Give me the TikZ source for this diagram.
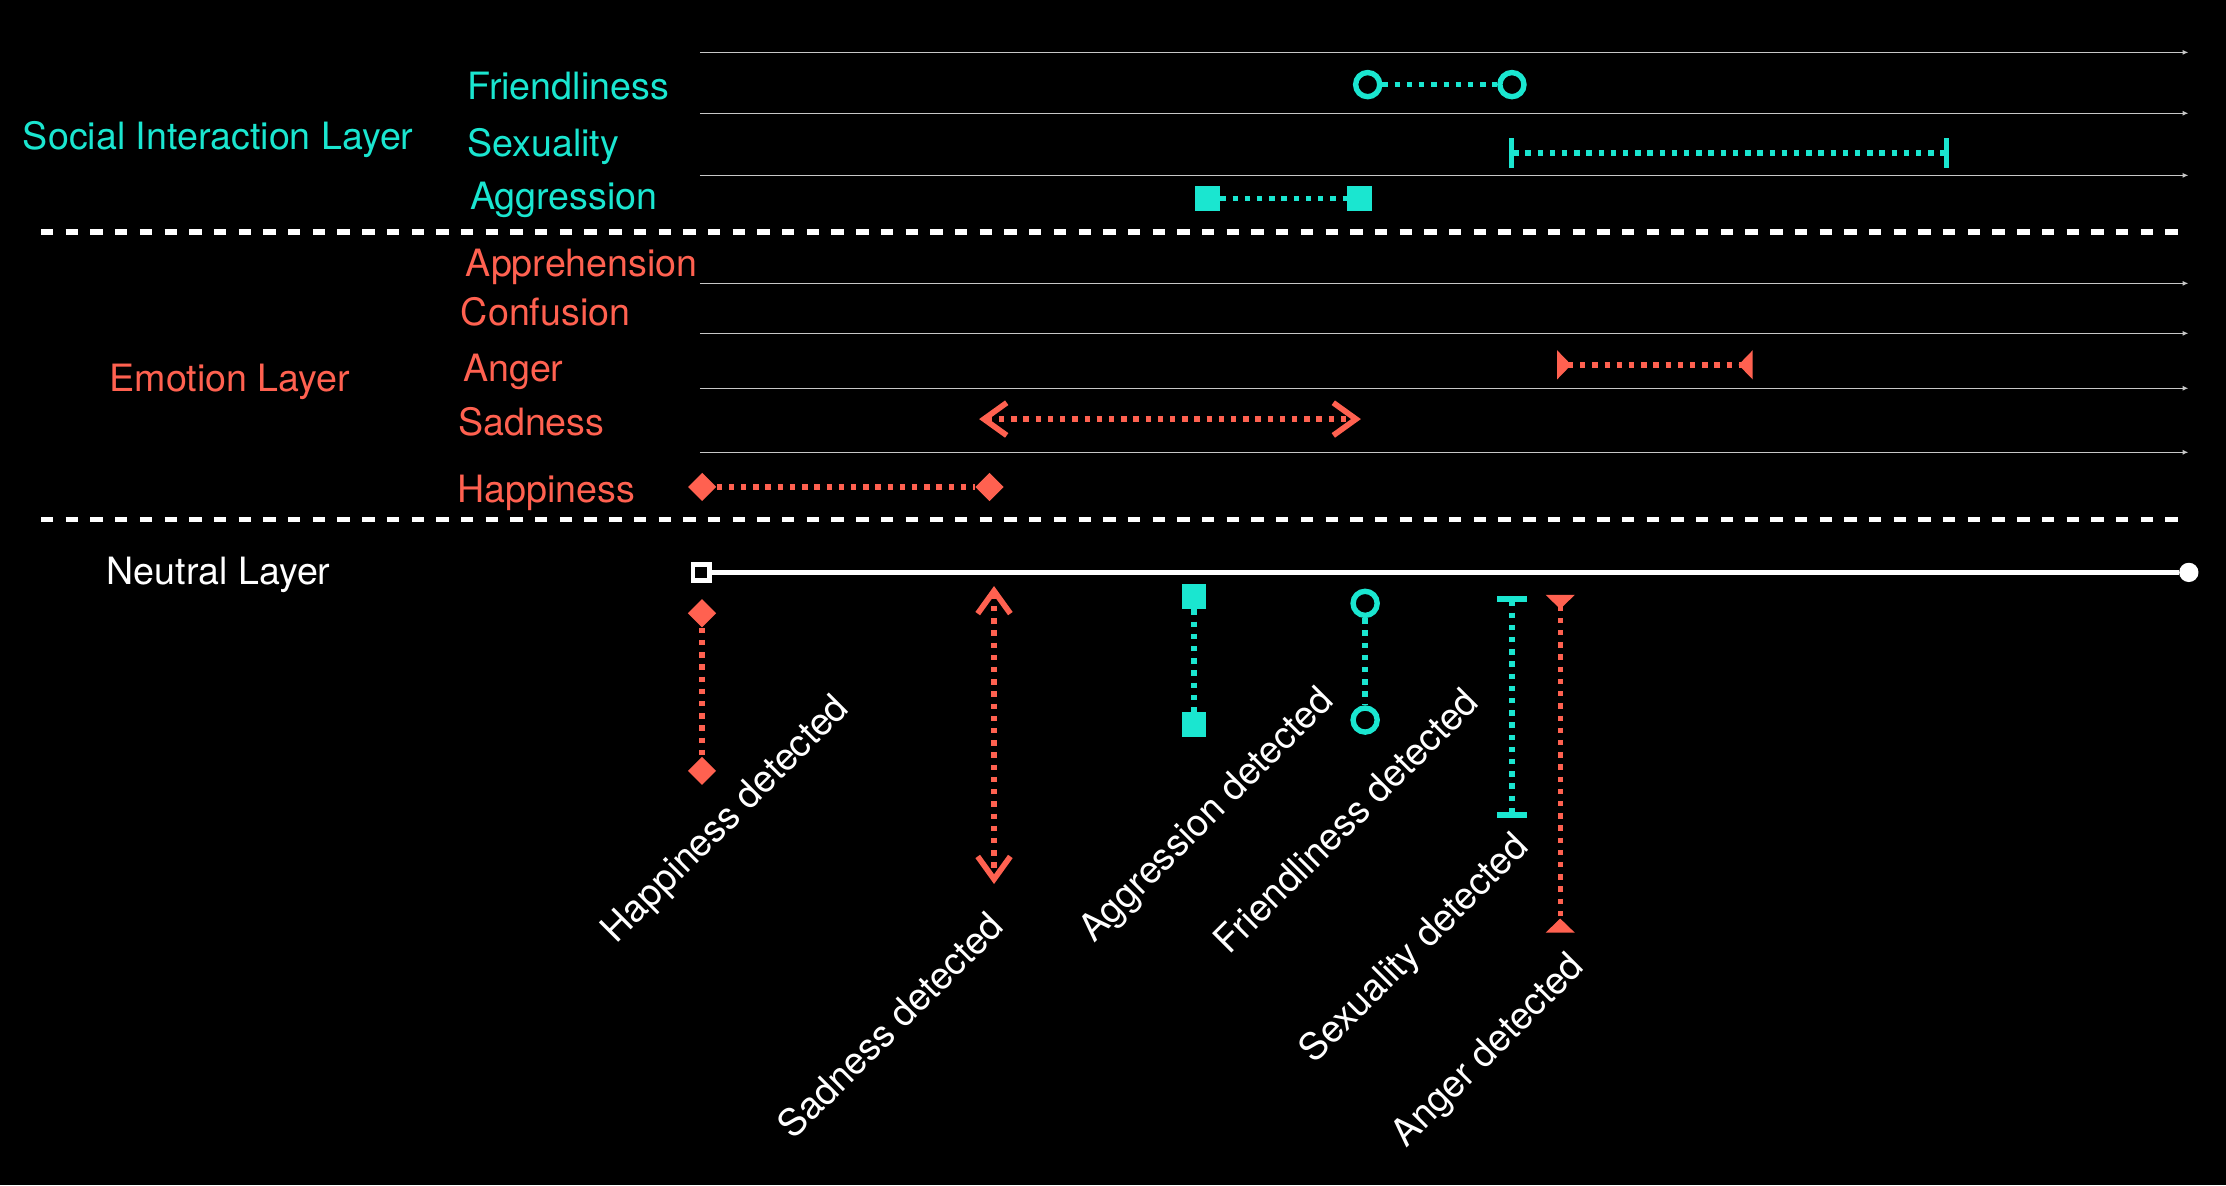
\documentclass[tikz,border=0pt]{standalone}
\usepackage{fontspec}
\setmainfont{TeX Gyre Heros}
\usetikzlibrary{arrows.meta,shapes.geometric}
\definecolor{teal1}{RGB}{26,230,208}
\definecolor{coral1}{RGB}{255,97,80}
\tikzstyle{lbl} = [anchor=base west, inner sep=0pt, font=\fontsize{26.5}{30}\selectfont]
\tikzstyle{tilted} = [rotate=45, inner sep=0pt, text=white, font=\fontsize{26.5}{30}\selectfont]
\tikzstyle{axisline} = [draw=black!22, line width=0.8pt, -{Latex[length=4pt,width=3.5pt]}]
\tikzstyle{divider} = [draw=white, line width=3.8pt, dash pattern=on 8.7pt off 8.7pt]
\tikzstyle{dotline} = [line width=3.8pt, dash pattern=on 3.8pt off 4.8pt]
\tikzstyle{hollow} = [draw=teal1, circle, line width=3.8pt, fill=black, minimum size=17pt, inner sep=0pt]
\tikzstyle{block} = [fill=teal1, rectangle, minimum size=17.5pt, inner sep=0pt]
\tikzstyle{gem} = [fill=coral1, diamond, minimum width=20pt, minimum height=20pt, inner sep=0pt]
\tikzset{
  barbs/.style={{Straight Barb[length=16pt,width=23pt,line width=4pt]}-{Straight Barb[length=16pt,width=23pt,line width=4pt]}},
  tris/.style={{Triangle[reversed,length=10pt,width=20pt]}-{Triangle[reversed,length=10pt,width=20pt]}},
  bars/.style={{Bar[width=20.7pt]}-{Bar[width=20.7pt]}}
}

\begin{document}
\begin{tikzpicture}[x=1pt,y=-1pt]

\fill[black] (0,0) rectangle (1568,835);
\useasboundingbox (0,0) rectangle (1568,835);

\node[lbl, text=teal1] (social) at (16,105.2) {Social Interaction Layer};
\node[lbl, text=coral1] (emotion) at (77,276) {Emotion Layer};
\node[lbl, text=white] (neutral) at (75,412) {Neutral Layer};

\node[lbl, text=teal1] (friend) at (329,70) {Friendliness};
\node[lbl, text=teal1] (sexual) at (329,110.4) {Sexuality};
\node[lbl, text=teal1] (aggr) at (331,147.5) {Aggression};
\node[lbl, text=coral1] (appr) at (328,195) {Apprehension};
\node[lbl, text=coral1] (conf) at (324.5,229) {Confusion};
\node[lbl, text=coral1] (anger) at (326,269) {Anger};
\node[lbl, text=coral1] (sad) at (322.5,307) {Sadness};
\node[lbl, text=coral1] (happy) at (322,354) {Happiness};

\foreach \yy [count=\i] in {36.9,79.8,123.5,199.6,234.8,273.5,318.6} {
  \coordinate (ax\i) at (493,\yy);
  \coordinate (axe\i) at (1541.5,\yy);
  \draw[axisline] (ax\i) -- (axe\i);
}

\coordinate (div1) at (28.9,163.4);
\coordinate (dive1) at (1542.5,163.4);
\coordinate (div2) at (28.9,366.1);
\coordinate (dive2) at (1542.5,366.1);
\draw[divider] (div1) -- (dive1);
\draw[divider] (div2) -- (dive2);

% social layer
\node[hollow] (fr1) at (963.4,59.6) {};
\node[hollow] (fr2) at (1065,59.6) {};
\draw[dotline, teal1] (fr1) -- (fr2);
\coordinate (sx1) at (1063,107.8);
\coordinate (sx2) at (1373,107.8);
\draw[dotline, teal1, bars] (sx1) -- (sx2);
\node[block] (ag1) at (850.7,139.9) {};
\node[block] (ag2) at (957.6,139.9) {};
\draw[dotline, teal1] (ag1) -- (ag2);

% emotion layer
\coordinate (an1) at (1096.8,257);
\coordinate (an2) at (1234.6,257);
\draw[dotline, coral1, tris] (an1) -- (an2);
\coordinate (sa1) at (689.7,295.2);
\coordinate (sa2) at (958.6,295.2);
\draw[dotline, coral1, barbs] (sa1) -- (sa2);
\node[gem] (ha1) at (494.6,343) {};
\node[gem] (ha2) at (697,343) {};
\draw[dotline, coral1] (ha1) -- (ha2);

% neutral layer
\node[draw=white, fill=black, line width=3.3pt, minimum size=11.5pt, inner sep=0pt] (n0) at (494,403.2) {};
\node[circle, fill=white, minimum size=13.6pt, inner sep=0pt] (n1) at (1541.8,403.2) {};
\draw[white, line width=3.3pt] (n0) -- (n1);

% detections
\node[gem] (hd1) at (494.5,432) {};
\node[gem] (hd2) at (494.5,543) {};
\draw[dotline, coral1] (hd1) -- (hd2);
\coordinate (sd1) at (700.2,412.8);
\coordinate (sd2) at (700.2,622.7);
\draw[dotline, coral1, barbs] (sd1) -- (sd2);
\node[block] (ad1) at (841,420.3) {};
\node[block] (ad2) at (841,510.2) {};
\draw[dotline, teal1] (ad1) -- (ad2);
\node[hollow] (fd1) at (961.6,425) {};
\node[hollow] (fd2) at (961.6,507.2) {};
\draw[dotline, teal1] (fd1) -- (fd2);
\coordinate (xd1) at (1065,420);
\coordinate (xd2) at (1065,576);
\draw[dotline, teal1, bars] (xd1) -- (xd2);
\coordinate (nd1) at (1099,419);
\coordinate (nd2) at (1099,657);
\draw[dotline, coral1, tris] (nd1) -- (nd2);

\node[tilted] (hdet) at (512,578) {Happiness detected};
\node[tilted] (sdet) at (627,722) {Sadness detected};
\node[tilted] (adet) at (851,575) {Aggression detected};
\node[tilted] (fdet) at (948,578) {Friendliness detected};
\node[tilted] (xdet) at (997,669) {Sexuality detected};
\node[tilted] (ndet) at (1049,741) {Anger detected};

\end{tikzpicture}
\end{document}
